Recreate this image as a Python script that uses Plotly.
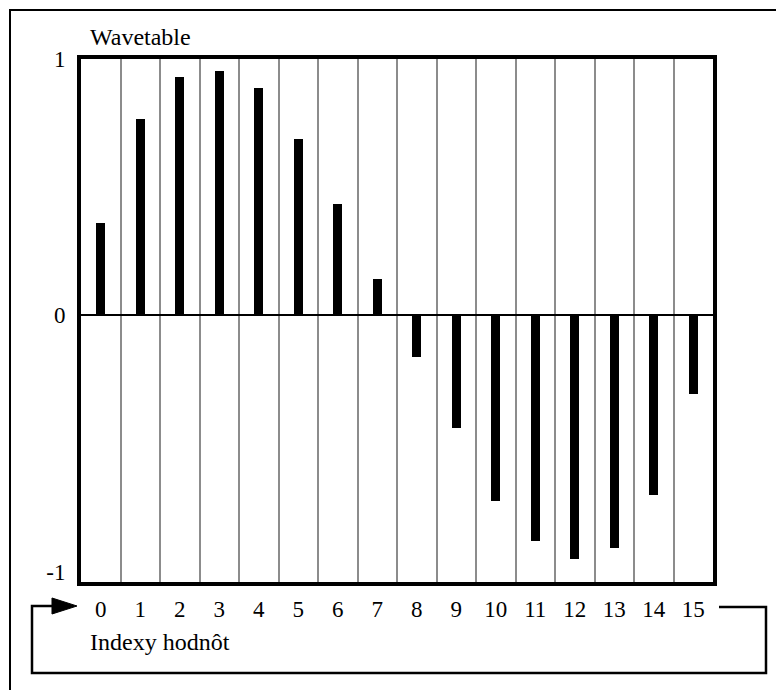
import plotly.graph_objects as go

# ---- data ----
indices = list(range(16))
values = [0.361, 0.766, 0.931, 0.953, 0.888, 0.688, 0.433, 0.140,
          -0.164, -0.440, -0.726, -0.882, -0.952, -0.907, -0.702, -0.308]
x_tick_labels = [str(i) for i in indices]
y_tick_vals = [-1, 0, 1]
y_tick_labels = ["-1", "0", "1"]
title_text = "Wavetable"
xlabel_text = "Indexy hodnôt"

# ---- layout geometry ----
W, H = 776, 690
L, R, T, B = 81, 63, 59, 108
PW = W - L - R
PH = H - T - B
FONT = "Liberation Serif, Times New Roman, serif"


def px(x, y):
    """pixel coordinates -> paper coordinates"""
    return (x - L) / PW, (H - B - y) / PH


def path(points, close=False):
    parts = []
    for i, (x, y) in enumerate(points):
        a, b = px(x, y)
        parts.append(("M" if i == 0 else "L") + f"{a:.5f},{b:.5f}")
    return " ".join(parts) + (" Z" if close else "")


fig = go.Figure()
fig.add_trace(go.Bar(
    x=indices, y=values, width=0.23,
    marker=dict(color="black", line=dict(width=0)),
    hoverinfo="x+y",
))

shapes = []
# outer frame (open at right/bottom, as cropped in the reference)
shapes.append(dict(type="path", xref="paper", yref="paper",
                   path=path([(10, 720), (10, 10), (820, 10)]),
                   line=dict(color="black", width=2), layer="above"))
# loop line
shapes.append(dict(type="path", xref="paper", yref="paper",
                   path=path([(719, 607), (766, 607), (766, 673), (32, 673), (32, 606), (56, 606)]),
                   line=dict(color="black", width=2.5)))
# arrow head
shapes.append(dict(type="path", xref="paper", yref="paper",
                   path=path([(52, 598), (77, 606), (52, 614)], close=True),
                   fillcolor="black", line=dict(color="black", width=1)))

ax, ay = px(88, 37)
bx, by = px(88, 642)
annotations = [
    dict(text=title_text, xref="paper", yref="paper", x=ax, y=ay,
         xanchor="left", yanchor="middle", showarrow=False,
         font=dict(family=FONT, size=24, color="black")),
    dict(text=xlabel_text, xref="paper", yref="paper", x=bx, y=by,
         xanchor="left", yanchor="middle", showarrow=False,
         font=dict(family=FONT, size=24, color="black")),
]

fig.update_layout(
    width=W, height=H,
    margin=dict(l=L, r=R, t=T, b=B, pad=0),
    paper_bgcolor="white", plot_bgcolor="white",
    showlegend=False,
    shapes=shapes, annotations=annotations,
    font=dict(family=FONT, size=23, color="black"),
    bargap=0,
)
fig.update_xaxes(
    range=[-0.5, 15.5], tickmode="array", tickvals=indices, ticktext=x_tick_labels,
    showgrid=False, zeroline=False, ticks="",
    showline=True, mirror=True, linecolor="black", linewidth=4,
    ticklabelstandoff=3,
    minor=dict(tickmode="array", tickvals=[i + 0.5 for i in indices[:-1]],
               showgrid=True, gridcolor="#8c8c8c", gridwidth=1.7, ticks=""),
    fixedrange=True,
)
fig.update_yaxes(
    range=[-1.0406, 1.0], tickmode="array", tickvals=y_tick_vals, ticktext=y_tick_labels,
    showgrid=False, zeroline=True, zerolinecolor="black", zerolinewidth=2, ticks="",
    showline=True, mirror=True, linecolor="black", linewidth=4,
    ticklabelstandoff=7,
    fixedrange=True,
)

fig.write_html("out.html", config={"displayModeBar": False},
               post_script="document.body.style.margin='0';document.body.style.overflow='hidden';")
